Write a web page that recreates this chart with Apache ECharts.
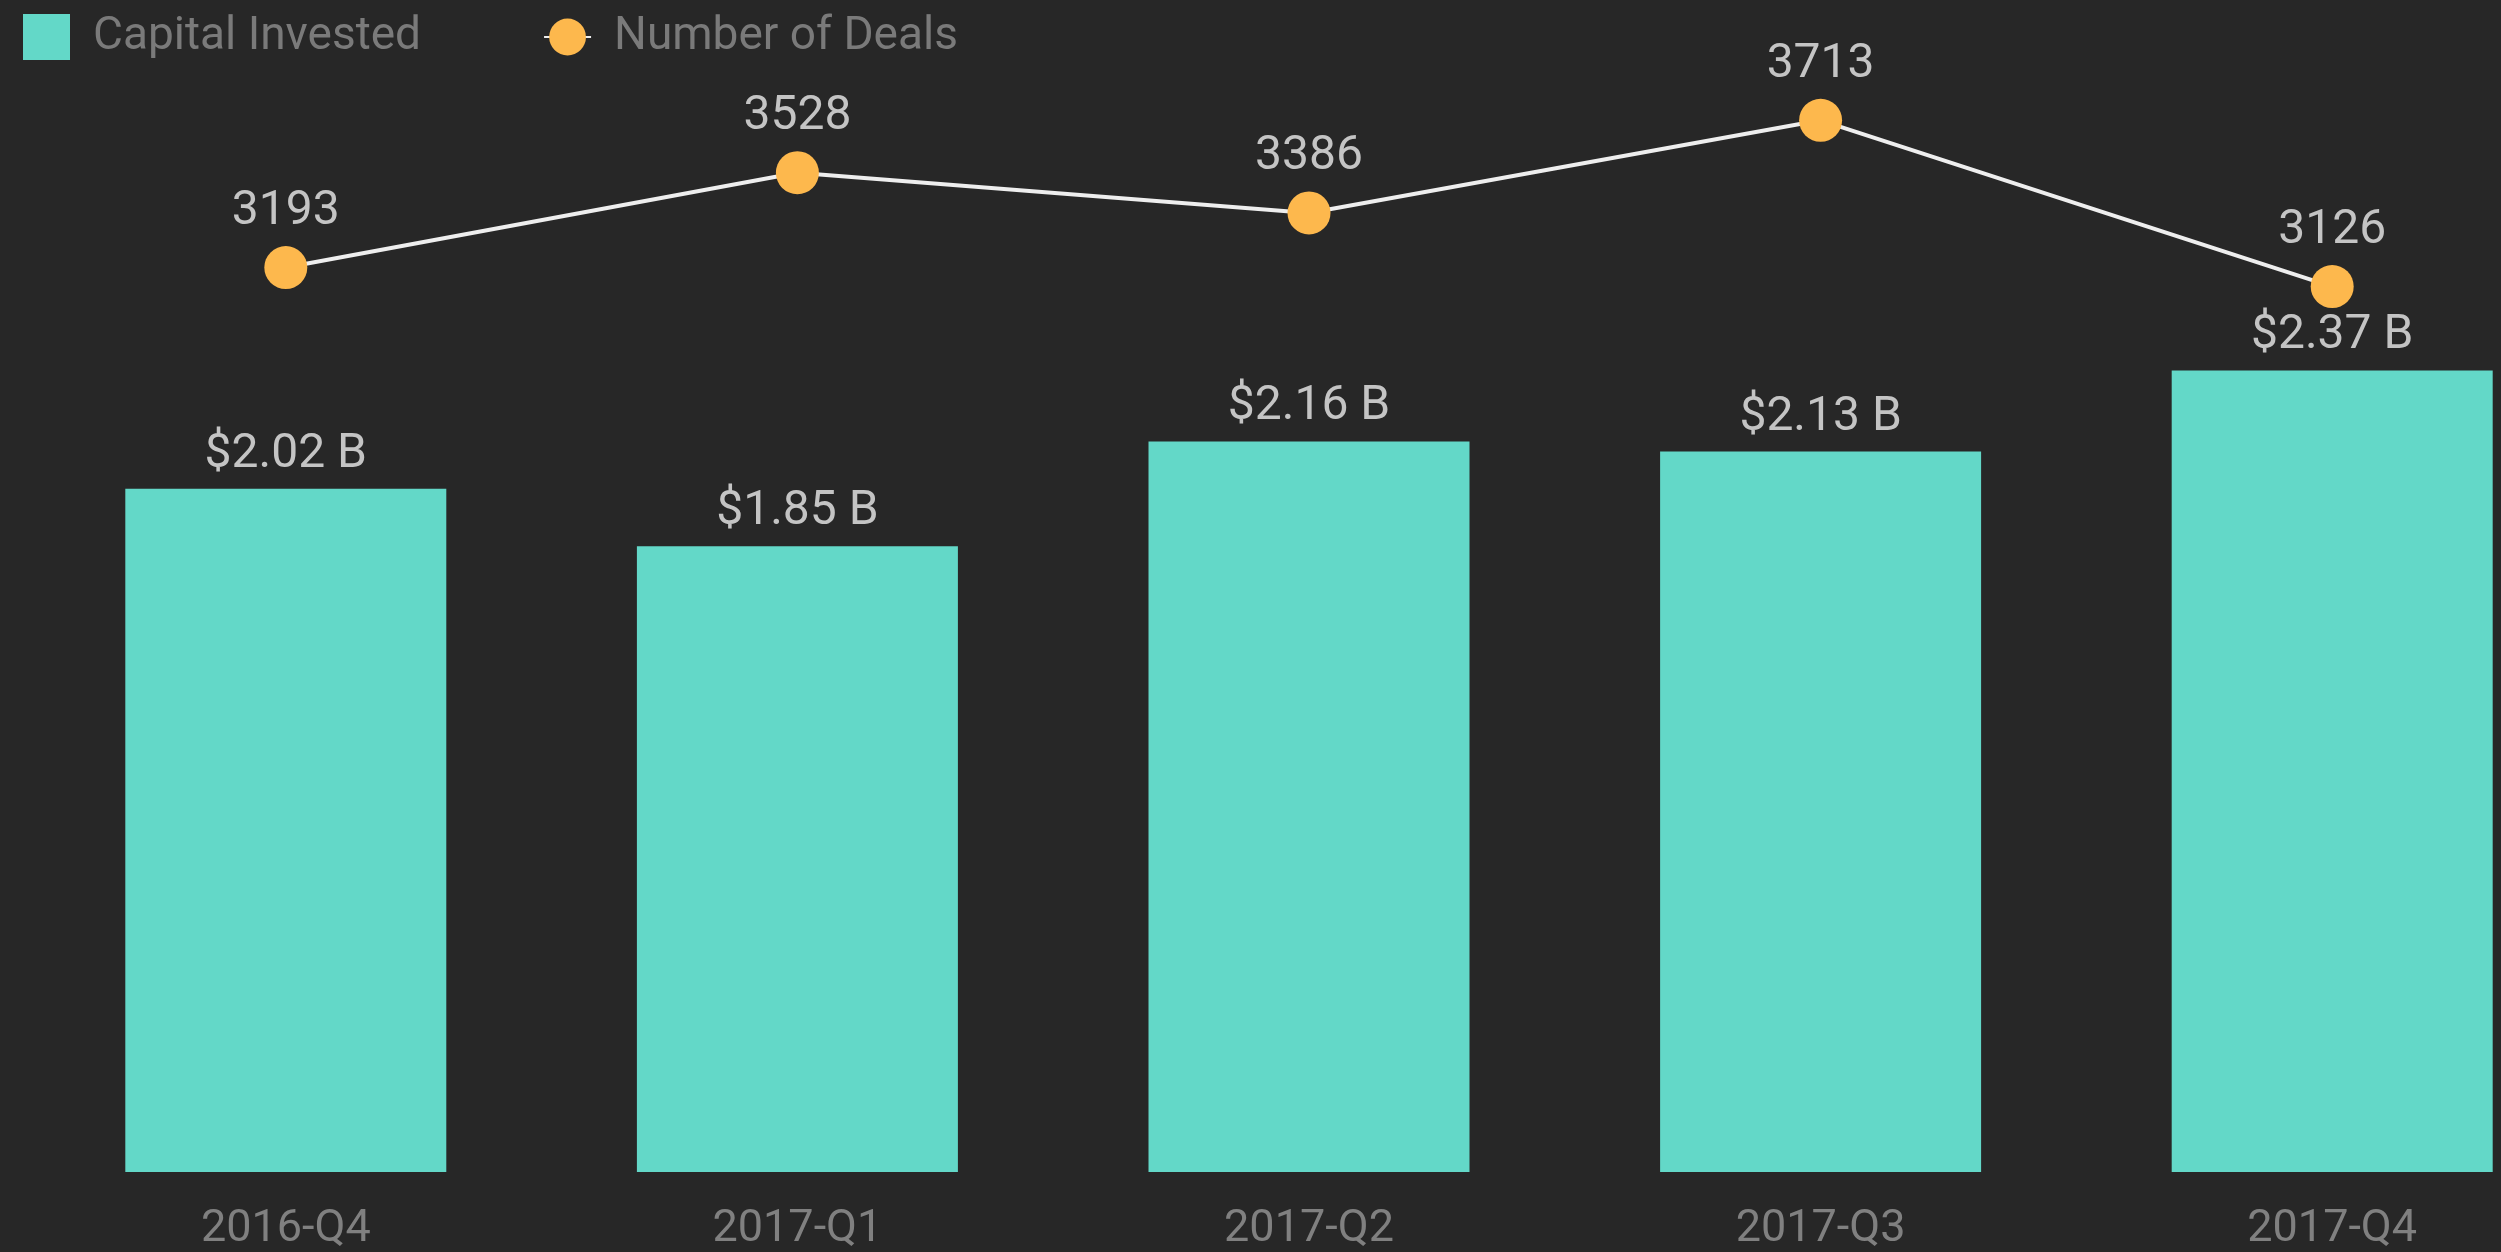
<!DOCTYPE html>
<html>
<head>
<meta charset="utf-8">
<script src="https://cdn.jsdelivr.net/npm/echarts@6/dist/echarts.min.js"></script>
<style>
html,body{margin:0;padding:0;background:#272727;overflow:hidden;width:2501px;height:1252px;}
#chart{width:2588px;height:1252px;}
</style>
</head>
<body>
<div id="chart"></div>
<script>
const categories = ['2016-Q4', '2017-Q1', '2017-Q2', '2017-Q3', '2017-Q4'];
const capitalInvested = [2.02, 1.85, 2.16, 2.13, 2.37];
const numberOfDeals = [3193, 3528, 3386, 3713, 3126];

const chart = echarts.init(document.getElementById('chart'));
chart.setOption({
  backgroundColor: '#272727',
  animation: false,
  textStyle: { fontFamily: 'Roboto' },
  legend: {
    left: 18,
    top: 9,
    itemWidth: 47,
    itemHeight: 46,
    itemGap: 122,
    textStyle: { color: '#7a7a7a', fontSize: 46, fontFamily: 'Roboto', padding: [0, 0, 0, 18] },
    data: [
      { name: 'Capital Invested', icon: 'rect' },
      { name: 'Number of Deals' }
    ]
  },
  grid: { left: 30, top: 39, right: 0, bottom: 79, containLabel: false },
  xAxis: {
    type: 'category',
    data: categories,
    axisLine: { show: false },
    axisTick: { show: false },
    splitLine: { show: false },
    axisLabel: { color: '#808080', fontSize: 45, fontFamily: 'Roboto', margin: 35 }
  },
  yAxis: [
    { type: 'value', min: 0, max: 3.35, show: false, splitLine: { show: false } },
    { type: 'value', min: 0, max: 4000, show: false, splitLine: { show: false } }
  ],
  series: [
    {
      name: 'Capital Invested',
      type: 'bar',
      data: capitalInvested,
      yAxisIndex: 0,
      barWidth: 321,
      itemStyle: { color: '#63d8c8' },
      label: {
        show: true,
        position: 'top',
        distance: 10,
        color: '#c4c4c4',
        fontSize: 48,
        fontFamily: 'Roboto',
        formatter: p => '$' + p.value.toFixed(2) + ' B'
      }
    },
    {
      name: 'Number of Deals',
      type: 'line',
      data: numberOfDeals,
      yAxisIndex: 1,
      symbol: 'circle',
      symbolSize: 43,
      lineStyle: { color: '#eeeeee', width: 4 },
      itemStyle: { color: '#fdb84d' },
      label: {
        show: true,
        position: 'top',
        distance: 10,
        color: '#c4c4c4',
        fontSize: 48,
        fontFamily: 'Roboto'
      }
    }
  ]
});
</script>
</body>
</html>
